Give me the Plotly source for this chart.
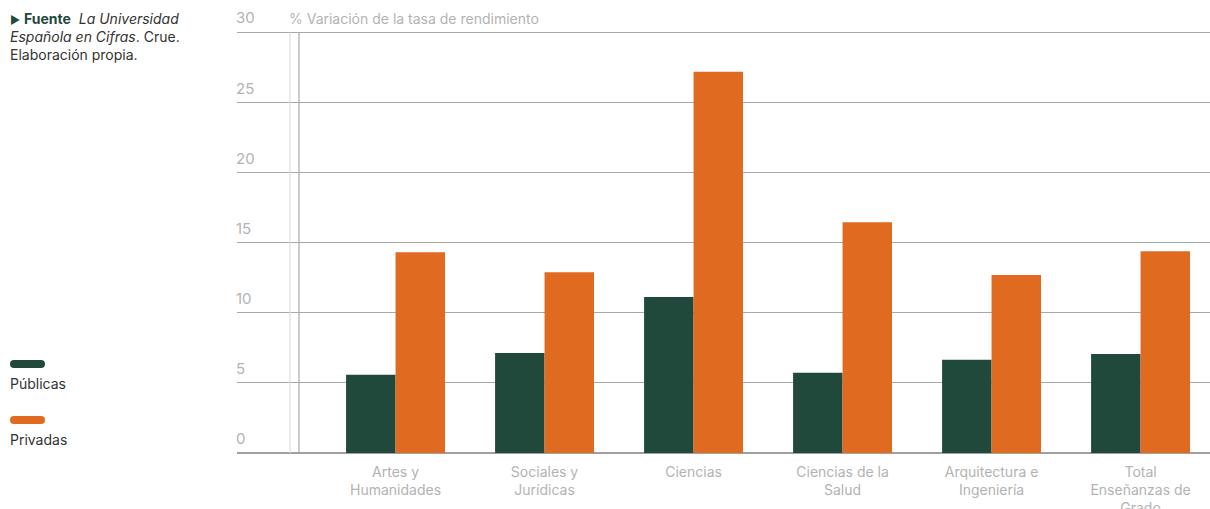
import plotly.graph_objects as go

categories = ["Artes y<br>Humanidades", "Sociales y<br>Jurídicas", "Ciencias",
              "Ciencias de la<br>Salud", "Arquitectura e<br>Ingeniería",
              "Total<br>Enseñanzas de<br>Grado"]
publicas = [5.58, 7.14, 11.12, 5.72, 6.65, 7.07]
privadas = [14.32, 12.90, 27.19, 16.45, 12.69, 14.39]
series_names = ["Públicas", "Privadas"]
y_ticks = [0, 5, 10, 15, 20, 25, 30]

GREEN = "#20493c"
ORANGE = "#df6a20"
GRAY_TXT = "#b3b3b3"
FONT = "Inter"

OFF = 0  # page body margin removed via post_script
W, H = 1210, 509
ML, MR, MT, MB = 237, 0, 31, 56
PW = W - ML - MR
PH = H - MT - MB


def px(x):
    """reference pixel x -> paper x"""
    return (x - OFF - ML) / PW


def py(y):
    """reference pixel y -> paper y"""
    return (H - MB - (y - OFF)) / PH


fig = go.Figure()
fig.add_trace(go.Bar(x=categories, y=publicas, name=series_names[0],
                     marker=dict(color=GREEN, line=dict(width=0))))
fig.add_trace(go.Bar(x=categories, y=privadas, name=series_names[1],
                     marker=dict(color=ORANGE, line=dict(width=0))))

shapes = []
# vertical decorative lines
shapes.append(dict(type="line", xref="paper", yref="y", x0=px(290), x1=px(290), y0=0, y1=y_ticks[-1],
                   line=dict(color="#dddddd", width=1.2)))
shapes.append(dict(type="line", xref="paper", yref="y", x0=px(299), x1=px(299), y0=0, y1=y_ticks[-1],
                   line=dict(color="#a8a8a8", width=1.2)))


def pill(x0, x1, yc, h, color):
    r = h / 2
    pts = [px(x0 + r), px(x1 - r), px(x1), px(x0)]
    ytop, ybot, ymid = py(yc - r), py(yc + r), py(yc)
    path = (f"M {pts[0]},{ytop} L {pts[1]},{ytop} Q {pts[2]},{ytop} {pts[2]},{ymid} "
            f"Q {pts[2]},{ybot} {pts[1]},{ybot} L {pts[0]},{ybot} Q {pts[3]},{ybot} {pts[3]},{ymid} "
            f"Q {pts[3]},{ytop} {pts[0]},{ytop} Z")
    return dict(type="path", xref="paper", yref="paper", path=path,
                fillcolor=color, line=dict(width=0))


shapes.append(pill(10, 45, 364, 8, GREEN))
shapes.append(pill(10, 45, 420, 8, ORANGE))

annotations = [
    dict(xref="paper", yref="paper", x=px(287), y=py(18), xanchor="left", yanchor="middle",
         text="% Variación de la tasa de rendimiento", showarrow=False,
         font=dict(family=FONT, size=14, color=GRAY_TXT)),
    dict(xref="paper", yref="paper", x=px(8), y=py(8), xanchor="left", yanchor="top",
         align="left", showarrow=False,
         text=(f"<span style='color:{GREEN};font-size:11px'>▶</span> "
               f"<b><span style='color:{GREEN}'>Fuente</span></b>  <i>La Universidad</i><br>"
               "<i>Española en Cifras</i>. Crue.<br>Elaboración propia."),
         font=dict(family=FONT, size=14, color="#333333")),
    dict(xref="paper", yref="paper", x=px(8), y=py(383), xanchor="left", yanchor="middle",
         text=series_names[0], showarrow=False, font=dict(family=FONT, size=14, color="#333333")),
    dict(xref="paper", yref="paper", x=px(8), y=py(439), xanchor="left", yanchor="middle",
         text=series_names[1], showarrow=False, font=dict(family=FONT, size=14, color="#333333")),
]
# y tick labels, sitting above their gridlines at the plot's left edge
for v in y_ticks:
    annotations.append(dict(xref="paper", yref="y", x=px(234), y=v, xanchor="left", yanchor="bottom",
                            yshift=3, text=str(v), showarrow=False,
                            font=dict(family=FONT, size=15, color=GRAY_TXT)))

fig.update_layout(
    width=W, height=H,
    margin=dict(l=ML, r=MR, t=MT, b=MB, pad=0, autoexpand=False),
    paper_bgcolor="white", plot_bgcolor="white",
    barmode="group", bargap=0.336, bargroupgap=0,
    showlegend=False, hovermode=False,
    font=dict(family=FONT, size=14, color=GRAY_TXT),
    xaxis=dict(range=[-1.064, 5.466], showgrid=False, showline=False, zeroline=False,
               ticks="", ticklabelstandoff=9, automargin=False,
               tickfont=dict(family=FONT, size=14, color=GRAY_TXT)),
    yaxis=dict(range=[0, 30.1], tickvals=y_ticks, showticklabels=False, automargin=False,
               showgrid=True, gridcolor="#a8a8a8", gridwidth=1,
               zeroline=True, zerolinecolor="#a0a0a0", zerolinewidth=1.5,
               showline=False, ticks=""),
    shapes=shapes, annotations=annotations,
)

fig.write_html("out.html", config={"displayModeBar": False},
               post_script="document.body.style.margin='0';document.body.style.overflow='hidden';")
